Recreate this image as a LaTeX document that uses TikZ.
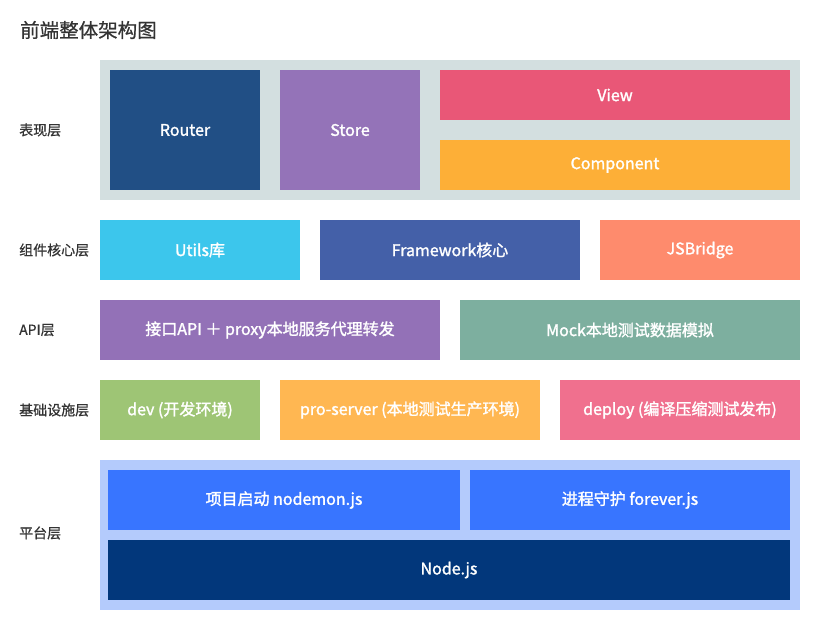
\documentclass[tikz,border=0pt]{standalone}
\usepackage{fontspec}
\setmainfont{Noto Sans CJK SC}
\newfontfamily\boxfont{Noto Sans CJK SC}[FakeBold=1.6]
\newfontfamily\titlefont{Noto Sans CJK SC}[FakeBold=0.8]
\usetikzlibrary{positioning}

\definecolor{layerbg}{HTML}{D3DFE0}
\definecolor{platbg}{HTML}{B4CBFC}
\definecolor{routerc}{HTML}{214F85}
\definecolor{storec}{HTML}{9473B8}
\definecolor{viewc}{HTML}{E95777}
\definecolor{compc}{HTML}{FDAF37}
\definecolor{utilsc}{HTML}{3CC6EC}
\definecolor{frameworkc}{HTML}{4460A8}
\definecolor{bridgec}{HTML}{FE8B6D}
\definecolor{apic}{HTML}{9371B7}
\definecolor{mockc}{HTML}{7DAF9F}
\definecolor{devc}{HTML}{9EC575}
\definecolor{proc}{HTML}{FFB752}
\definecolor{deployc}{HTML}{F0708E}
\definecolor{nodemonc}{HTML}{3875FF}
\definecolor{nodejsc}{HTML}{02377B}
\definecolor{labelc}{HTML}{333333}

\tikzset{
	box/.style={inner sep=0, outer sep=0, text=white, font=\boxfont\fontsize{16}{19}\selectfont},
	layerbox/.style={inner sep=0, outer sep=0},
	layerlabel/.style={anchor=west, inner sep=0, text=labelc, font=\titlefont\fontsize{14}{17}\selectfont}
}

\begin{document}
\begin{tikzpicture}[x=1pt, y=-1pt, node distance=20pt]

					\useasboundingbox (0,0) rectangle (820,634);

					\node[anchor=west, inner sep=0, text=labelc, font=\titlefont\fontsize{19.5}{23}\selectfont] (title) at (20,30) {前端整体架构图};

					% 表现层
					\node[layerbox, fill=layerbg, minimum width=700, minimum height=140] (viewlayer) at (450,130) {};
					\node[box, fill=routerc, minimum width=150, minimum height=120] (router) at (185,130) {Router};
					\node[box, fill=storec, minimum width=140, minimum height=120, right=of router] (store) {Store};
					\node[box, fill=viewc, minimum width=350, minimum height=50] (view) at (615,95) {View};
					\node[box, fill=compc, minimum width=350, minimum height=50, below=of view] (component) {Component};

					% 组件核心层
					\node[box, fill=utilsc, minimum width=200, minimum height=60] (utils) at (200,250) {Utils库};
					\node[box, fill=frameworkc, minimum width=260, minimum height=60, right=of utils] (framework) {Framework核心};
					\node[box, fill=bridgec, minimum width=200, minimum height=60, right=of framework] (jsbridge) {JSBridge};

					% API层
					\node[box, fill=apic, minimum width=340, minimum height=60] (api) at (270,330) {接口API ＋ proxy本地服务代理转发};
					\node[box, fill=mockc, minimum width=340, minimum height=60, right=of api] (mock) {Mock本地测试数据模拟};

					% 基础设施层
					\node[box, fill=devc, minimum width=160, minimum height=60] (dev) at (180,410) {dev (开发环境)};
					\node[box, fill=proc, minimum width=260, minimum height=60, right=of dev] (proserver) {pro-server (本地测试生产环境)};
					\node[box, fill=deployc, minimum width=240, minimum height=60, right=of proserver] (deploy) {deploy (编译压缩测试发布)};

					% 平台层
					\node[layerbox, fill=platbg, minimum width=700, minimum height=150] (platlayer) at (450,535) {};
					\node[box, fill=nodemonc, minimum width=352, minimum height=60] (nodemon) at (284,500) {项目启动 nodemon.js};
					\node[box, fill=nodemonc, minimum width=320, minimum height=60, right=10pt of nodemon] (forever) {进程守护 forever.js};
					\node[box, fill=nodejsc, minimum width=682, minimum height=60] (nodejs) at (449,570) {Node.js};

					\node[layerlabel] (lview) at (19,130) {表现层};
					\node[layerlabel] (lcore) at (19,250) {组件核心层};
					\node[layerlabel] (lapi) at (19,330) {API层};
					\node[layerlabel] (lbase) at (19,410) {基础设施层};
					\node[layerlabel] (lplat) at (19,533) {平台层};

				\end{tikzpicture}
\end{document}
